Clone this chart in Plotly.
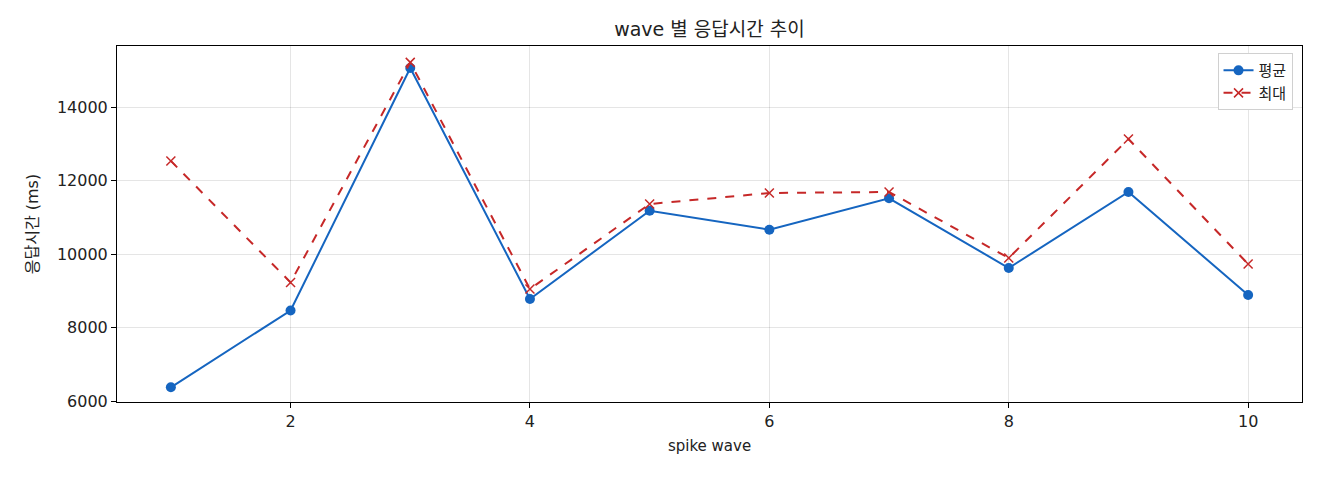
import plotly.graph_objects as go

waves = [1, 2, 3, 4, 5, 6, 7, 8, 9, 10]
avg_ms = [6373, 8463, 15061, 8776, 11178, 10661, 11515, 9619, 11687, 8884]
max_ms = [12533, 9227, 15214, 9048, 11360, 11660, 11687, 9891, 13129, 9728]

font = "DejaVu Sans, Noto Sans CJK KR, sans-serif"

fig = go.Figure()
fig.add_trace(go.Scatter(
    x=waves, y=avg_ms, name="평균", mode="lines+markers",
    line=dict(color="#1565C0", width=2),
    marker=dict(symbol="circle", size=10, color="#1565C0"),
))
fig.add_trace(go.Scatter(
    x=waves, y=max_ms, name="최대", mode="lines+markers",
    line=dict(color="#C62828", width=2, dash="dash"),
    marker=dict(symbol="x-thin", size=9, line=dict(color="#C62828", width=1.5)),
))

axis_style = dict(
    showline=True, linecolor="black", linewidth=1, mirror=True,
    ticks="outside", ticklen=5, tickcolor="black",
    showgrid=True, gridcolor="rgba(0,0,0,0.1)", gridwidth=1,
    zeroline=False, tickfont=dict(size=16, color="#222222"),
    tickformat="d",
)

fig.update_layout(
    width=1320, height=480,
    paper_bgcolor="white", plot_bgcolor="white",
    font=dict(family=font, size=15, color="#222222"),
    title=dict(text="wave 별 응답시간 추이", x=0.5, xref="paper",
               y=0.956, yref="container", xanchor="center", yanchor="middle",
               font=dict(size=19)),
    margin=dict(l=109, r=26, t=38, b=86),
    legend=dict(x=0.992, y=0.98, xanchor="right", yanchor="top",
                bordercolor="#d0d0d0", borderwidth=1, bgcolor="white",
                font=dict(size=15)),
    showlegend=True,
)
fig.update_xaxes(axis_style, range=[0.55, 10.45], tickvals=[2, 4, 6, 8, 10],
                 title=dict(text="spike wave", font=dict(size=15), standoff=10))
fig.update_yaxes(axis_style, range=[5973, 15660], tickvals=[6000, 8000, 10000, 12000, 14000],
                 title=dict(text="응답시간 (ms)", font=dict(size=16), standoff=14))

fig.write_html("out.html")
